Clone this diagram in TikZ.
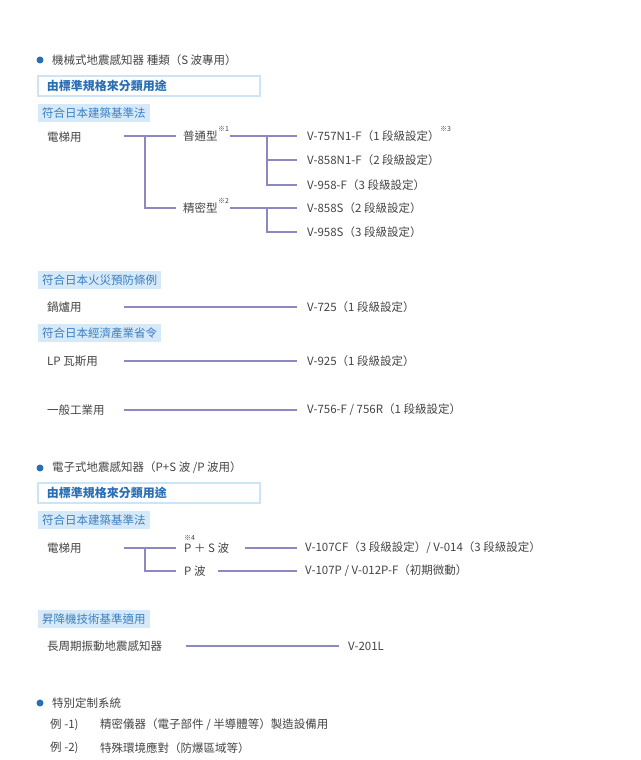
\documentclass[tikz,border=0pt]{standalone}
\usepackage{fontspec}
\setmainfont{Noto Sans CJK TC}
\definecolor{ln}{HTML}{8C88C0}
\definecolor{tagf}{HTML}{D6E9F8}
\definecolor{tagt}{HTML}{3A7FC0}
\definecolor{boxb}{HTML}{CDE4F5}
\definecolor{boxt}{HTML}{2A6EB5}
\definecolor{txt}{HTML}{444444}
\begin{document}
\begin{tikzpicture}[x=1pt,y=-1pt,
  t/.style={anchor=west,inner sep=0pt,text=txt,font=\fontsize{11.5}{13}\selectfont},
  sup/.style={anchor=south west,inner sep=0pt,text=txt,font=\fontsize{7}{8}\selectfont},
  tag/.style={anchor=west,fill=tagf,text=tagt,inner xsep=4pt,minimum height=16pt,font=\fontsize{11.5}{13}\selectfont},
  hbox/.style={anchor=west,draw=boxb,line width=1.5pt,text=boxt,minimum width=222pt,minimum height=20pt,inner xsep=9pt,align=left,text width=204pt,font=\bfseries\fontsize{12}{13}\selectfont},
  bul/.style={circle,fill=boxt,inner sep=0pt,minimum size=7pt},
  c/.style={line width=1.3pt,draw=ln}]
\useasboundingbox (0,0) rectangle (640,760);
% section 1
\node[bul] (b1) at (40,60) {};
\node[t] (h1) at (52,60) {機械式地震感知器 種類（S 波專用）};
\node[hbox] (bx1) at (37,86) {由標準規格來分類用途};
\node[tag] (g1) at (38,113) {符合日本建築基準法};
\node[t] (e1) at (47,137) {電梯用};
\node[t] (p1) at (183,136) {普通型};
\node[sup] (s1) at ([yshift=-1pt]p1.north east) {※1};
\node[t] (p2) at (183,208) {精密型};
\node[sup] (s2) at ([yshift=-1pt]p2.north east) {※2};
\node[t] (v1) at (307,136) {V-757N1-F（1 段級設定）};
\node[sup] (s3) at ([yshift=-1pt]v1.north east) {※3};
\node[t] (v2) at (307,160) {V-858N1-F（2 段級設定）};
\node[t] (v3) at (307,185) {V-958-F（3 段級設定）};
\node[t] (v4) at (307,208) {V-858S（2 段級設定）};
\node[t] (v5) at (307,232) {V-958S（3 段級設定）};
\coordinate (j1) at (124,136); \coordinate (j2) at (176,136);
\draw[c] (j1) -- (j2);
\draw[c] (145,136) |- (176,208);
\draw[c] (230,136) -- (297,136);
\draw[c] (267,136) |- (297,160);
\draw[c] (267,160) |- (297,185);
\draw[c] (230,208) -- (297,208);
\draw[c] (267,208) |- (297,232);
\node[tag] (g2) at (38,280) {符合日本火災預防條例};
\node[t] (e2) at (47,307) {鍋爐用};
\node[t] (v6) at (307,307) {V-725（1 段級設定）};
\draw[c] (124,307) -- (297,307);
\node[tag] (g3) at (38,333) {符合日本經濟產業省令};
\node[t] (e3) at (47,361) {LP 瓦斯用};
\node[t] (v7) at (307,361) {V-925（1 段級設定）};
\draw[c] (124,361) -- (297,361);
\node[t] (e4) at (47,410) {一般工業用};
\node[t] (v8) at (307,410) {V-756-F / 756R（1 段級設定）};
\draw[c] (124,410) -- (297,410);
% section 2
\node[bul] (b2) at (40,468) {};
\node[t] (h2) at (52,468) {電子式地震感知器（P+S 波 /P 波用）};
\node[hbox] (bx2) at (37,493) {由標準規格來分類用途};
\node[tag] (g4) at (38,520) {符合日本建築基準法};
\node[t] (e5) at (47,548) {電梯用};
\node[t] (q1) at (184,548) {P ＋ S 波};
\node[sup,anchor=south west] (s4) at (184,541) {※4};
\node[t] (q2) at (184,571) {P 波};
\node[t] (w1) at (305,548) {V-107CF（3 段級設定）/ V-014（3 段級設定）};
\node[t] (w2) at (305,571) {V-107P / V-012P-F（初期微動）};
\draw[c] (124,548) -- (176,548);
\draw[c] (145,548) |- (176,571);
\draw[c] (245,548) -- (297,548);
\draw[c] (218,571) -- (297,571);
\node[tag] (g5) at (38,619) {昇降機技術基準適用};
\node[t] (e6) at (47,646) {長周期振動地震感知器};
\node[t] (w3) at (348,646) {V-201L};
\draw[c] (186,646) -- (339,646);
% section 3
\node[bul] (b3) at (40,703) {};
\node[t] (h3) at (52,703) {特別定制系統};
\node[t] (x1) at (50,725) {例 -1)};
\node[t] (y1) at (100,725) {精密儀器（電子部件 / 半導體等）製造設備用};
\node[t] (x2) at (50,748) {例 -2)};
\node[t] (y2) at (100,748) {特殊環境應對（防爆區域等）};
\end{tikzpicture}
\end{document}
